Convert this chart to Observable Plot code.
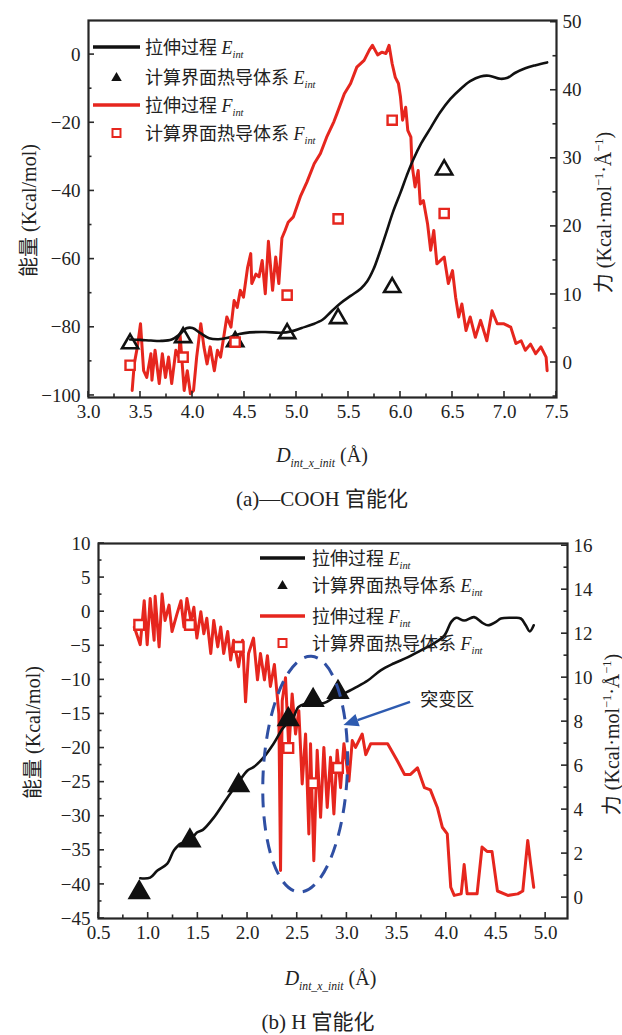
<!DOCTYPE html>
<html><head><meta charset="utf-8">
<script src="https://cdn.jsdelivr.net/npm/d3@7"></script>
<script src="https://cdn.jsdelivr.net/npm/@observablehq/plot@0.6"></script>
<style>
body{margin:0;background:#fff;width:622px;}
svg{display:block;}
svg text{font-family:"Liberation Serif","Noto Sans CJK SC",serif !important;}
.cap{font-family:"Liberation Serif","Noto Sans CJK SC",serif;font-size:21px;color:#222;text-align:center;white-space:nowrap;}
</style></head><body>
<div id="panelA"></div>
<div class="cap" id="capA" style="height:42px;line-height:42px;padding-left:22px;width:600px;"></div>
<div id="panelB"></div>
<div class="cap" id="capB" style="height:35px;line-height:44px;padding-left:14px;width:608px;"></div>
<script>
// ---------------- DATA: panel (a) —COOH ----------------
const xTicksA = [3.0,3.5,4.0,4.5,5.0,5.5,6.0,6.5,7.0,7.5];
const xMinorA = [3.25,3.75,4.25,4.75,5.25,5.75,6.25,6.75,7.25];
const eTicksA = [-100,-80,-60,-40,-20,0];
const eMinorA = [-90,-70,-50,-30,-10];
const fTicksA = [0,10,20,30,40,50];
const fMinorA = [-5,5,15,25,35,45];

// stretching process E_int (left axis)
const stretchEA_x = [3.40,3.50,3.60,3.70,3.80,3.88,3.94,4.00,4.08,4.16,4.25,4.35,4.45,4.55,4.70,4.85,4.95,5.05,5.15,5.25,5.33,5.42,5.52,5.62,5.68,5.74,5.80,5.86,5.93,6.00,6.06,6.12,6.20,6.29,6.38,6.48,6.58,6.67,6.77,6.85,6.96,7.03,7.10,7.20,7.30,7.41];
const stretchEA_e = [-83.6,-83.7,-83.9,-84.0,-83.6,-82.0,-80.3,-80.2,-81.8,-83.2,-83.5,-83.0,-82.0,-81.5,-81.4,-81.6,-81.2,-80.2,-79.2,-77.8,-75.5,-73.0,-70.8,-68.6,-66.5,-63.0,-58.0,-52.5,-46.0,-40.5,-35.5,-31.0,-26.0,-21.5,-17.0,-13.0,-10.0,-7.8,-6.4,-6.2,-7.1,-6.8,-5.4,-4.0,-3.1,-2.3];
// stretching process F_int (right axis)
const stretchFA_x = [3.42,3.44,3.47,3.50,3.53,3.56,3.60,3.61,3.64,3.68,3.71,3.74,3.77,3.80,3.84,3.87,3.88,3.92,3.95,3.98,4.01,4.04,4.08,4.11,4.14,4.17,4.21,4.24,4.27,4.30,4.33,4.37,4.40,4.43,4.46,4.49,4.53,4.56,4.57,4.61,4.64,4.67,4.70,4.73,4.77,4.80,4.83,4.86,4.89,4.92,4.97,5.04,5.10,5.17,5.23,5.29,5.36,5.39,5.46,5.52,5.58,5.65,5.70,5.73,5.78,5.82,5.86,5.89,5.92,5.95,5.98,6.00,6.02,6.05,6.07,6.10,6.11,6.14,6.17,6.19,6.22,6.26,6.29,6.32,6.35,6.42,6.46,6.50,6.53,6.56,6.59,6.63,6.67,6.72,6.77,6.83,6.88,6.93,6.99,7.06,7.11,7.16,7.20,7.25,7.30,7.35,7.40,7.41];
const stretchFA_f = [-4.1,-0.2,2.3,5.7,-1.2,-2.2,1.3,-2.6,1.8,-3.1,1.3,-2.2,0.8,-3.1,1.8,0.8,4.2,-4.1,-1.2,-4.6,-4.1,0.8,5.7,2.3,-0.2,2.3,-1.2,1.8,0.8,3.7,6.7,5.2,9.1,8.1,10.6,9.6,14.0,16.0,11.6,13.0,12.6,15.0,10.1,17.8,10.6,15.5,11.6,18.3,19.4,20.6,21.4,24.5,26.5,29.2,30.7,33.1,35.4,36.6,39.5,41.0,43.4,44.4,45.9,46.6,45.2,45.6,45.4,46.6,43.9,41.9,41.0,39.0,35.6,37.5,34.1,33.1,29.2,25.8,28.2,23.3,23.8,20.4,16.5,19.4,14.5,15.5,11.6,13.5,9.6,6.7,8.6,4.7,6.7,3.7,6.2,3.2,7.6,5.7,5.7,5.2,2.8,3.2,1.8,2.7,1.3,2.3,0.8,-1.2];
// interface thermal-conduction system (computed points)
const calcA_x = [3.40,3.91,4.41,4.91,5.40,5.92,6.42];
const calcA_e = [-84.8,-83.0,-84.2,-81.8,-77.4,-68.3,-33.8];
const calcA_f = [-0.4,0.8,3.0,9.9,21.1,35.6,21.9];

// ---------------- DATA: panel (b) H ----------------
const xTicksB = [0.5,1.0,1.5,2.0,2.5,3.0,3.5,4.0,4.5,5.0];
const xMinorB = [0.75,1.25,1.75,2.25,2.75,3.25,3.75,4.25,4.75];
const eTicksB = [-45,-40,-35,-30,-25,-20,-15,-10,-5,0,5,10];
const eMinorB = [-42.5,-37.5,-32.5,-27.5,-22.5,-17.5,-12.5,-7.5,-2.5,2.5,7.5];
const fTicksB = [0,2,4,6,8,10,12,14,16];
const fMinorB = [1,3,5,7,9,11,13,15];

const stretchEB_x = [0.92,1.02,1.09,1.19,1.26,1.33,1.41,1.49,1.55,1.66,1.80,1.90,2.00,2.06,2.16,2.26,2.36,2.46,2.51,2.58,2.67,2.77,2.87,2.97,3.09,3.21,3.34,3.47,3.61,3.74,3.87,3.98,4.05,4.10,4.18,4.28,4.36,4.42,4.50,4.55,4.68,4.75,4.80,4.84,4.88];
const stretchEB_e = [-39.1,-39.0,-38.0,-37.0,-35.0,-34.0,-33.8,-32.4,-32.0,-30.2,-27.2,-25.2,-23.3,-22.8,-21.4,-19.4,-17.0,-15.5,-14.0,-13.5,-13.4,-13.4,-12.6,-12.0,-11.1,-10.1,-8.6,-7.6,-6.7,-5.7,-4.7,-3.5,-1.5,-0.9,-1.3,-0.8,-1.6,-2.0,-1.5,-1.0,-0.9,-1.0,-2.0,-2.9,-2.0];
const stretchFB_x = [0.86,0.92,0.96,0.99,1.02,1.06,1.07,1.11,1.14,1.17,1.21,1.24,1.29,1.33,1.36,1.39,1.43,1.46,1.49,1.53,1.56,1.59,1.63,1.66,1.70,1.73,1.76,1.80,1.83,1.86,1.91,1.95,1.98,2.01,2.06,2.10,2.13,2.17,2.20,2.23,2.27,2.315,2.332,2.349,2.382,2.416,2.449,2.483,2.516,2.55,2.584,2.617,2.634,2.667,2.701,2.735,2.768,2.802,2.835,2.869,2.902,2.936,2.97,3.02,3.054,3.087,3.154,3.19,3.24,3.34,3.41,3.51,3.58,3.64,3.71,3.78,3.84,3.91,3.96,4.01,4.045,4.08,4.15,4.18,4.21,4.31,4.36,4.41,4.46,4.515,4.62,4.72,4.77,4.82,4.85,4.88];
const stretchFB_f = [12.3,11.5,13.5,11.5,13.6,11.7,13.7,11.4,13.8,12.6,13.3,12.1,12.9,13.5,12.3,13.6,12.6,13.2,11.8,13.0,12.0,12.7,11.1,12.6,11.4,12.3,11.1,12.1,10.8,11.7,10.5,11.7,8.9,11.1,11.8,9.9,11.1,9.9,11.0,9.6,10.6,8.35,1.23,8.95,10.0,6.7,9.26,7.44,8.5,5.17,7.44,2.89,6.99,1.68,6.7,3.65,6.83,4.1,6.38,3.8,6.7,5.0,7.0,5.3,7.14,6.83,7.44,6.5,7.0,7.0,7.0,6.2,5.6,5.6,5.9,5.0,4.9,4.1,3.2,2.9,0.47,0.1,0.17,1.5,0.17,0.17,2.3,2.1,2.1,0.3,0.1,0.17,0.3,2.6,1.5,0.47];
const calcB_x = [0.91,1.42,1.91,2.41,2.66,2.91];
const calcB_e = [-41.2,-33.6,-25.5,-15.8,-13.0,-11.8];
const calcB_f = [12.4,12.4,11.4,6.8,5.2,5.9];

// annotation of panel (b)
const zoneCenter = [2.585, -23.9];   // x, E
const zoneRadii = [0.423, 17.3];     // x-units, E-units
const zoneLabel = "突变区";
const zoneLabelAt = [4.01, -13.0];
const zoneArrow = [[3.64, -13.3], [2.97, -16.7]];

// text
const legendNames = ["拉伸过程", "计算界面热导体系", "拉伸过程", "计算界面热导体系"];
const legendSyms = ["E", "E", "F", "F"];
const captions = ["(a)—COOH 官能化", "(b) H 官能化"];

// ---------------- RENDER ----------------
const FONT = '"Liberation Serif","Noto Sans CJK SC",serif';
const RED = "#e6261e", BLACK = "#111", INK = "#222", BLUE = "#2f4fa3";

function richText(parent, parts, size, anchor) {
  const t = parent.append("text").attr("text-anchor", anchor || "start").attr("font-size", size)
    .attr("font-family", FONT);
  let shift = 0;
  for (const [s, k] of parts) {
    const ts = t.append("tspan").text(s);
    let target = 0, fs = size;
    if (k === "i") ts.attr("font-style", "italic");
    if (k === "sub") { ts.attr("font-style", "italic"); fs = size * 0.58; target = size * 0.27; }
    if (k === "sup") { fs = size * 0.62; target = -size * 0.42; }
    if (fs !== size) ts.attr("font-size", fs);
    if (target !== shift) { ts.attr("dy", target - shift); shift = target; }
  }
  return t;
}

function tickMark(axis, vals, len, side) {
  return (index, scales, values, dims) => {
    const g = d3.create("svg:g").attr("stroke", "#2a2a2a").attr("stroke-width", 1.6);
    const bottom = dims.height - dims.marginBottom;
    for (const v of vals) {
      if (axis === "x") {
        const px = scales.x(v);
        g.append("line").attr("x1", px).attr("x2", px).attr("y1", bottom).attr("y2", bottom - len);
      } else {
        const py = scales.y(v);
        const x0 = side === "left" ? dims.marginLeft : dims.width - dims.marginRight;
        const dir = side === "left" ? 1 : -1;
        g.append("line").attr("x1", x0).attr("x2", x0 + dir * len).attr("y1", py).attr("y2", py);
      }
    }
    return g.node();
  };
}

function buildPanel(P) {
  const k = (P.eDom[1] - P.eDom[0]) / (P.fDom[1] - P.fDom[0]);
  const fToE = f => P.eDom[0] + (f - P.fDom[0]) * k;
  const eToF = e => P.fDom[0] + (e - P.eDom[0]) / k;
  const lineE = P.sx.map((x, i) => ({x, e: P.se[i]}));
  const lineF = P.fx.map((x, i) => ({x, f: P.fv[i]}));
  const calc = P.cx.map((x, i) => ({x, e: P.ce[i], f: P.cf[i]}));

  const legend = () => {
    const g = d3.create("svg:g").attr("font-family", FONT).attr("fill", INK);
    const L = P.legend;
    legendNames.forEach((name, i) => {
      const y = L.rows[i];
      const cxs = (L.x0 + L.x1) / 2;
      if (i === 0 || i === 2) {
        g.append("line").attr("x1", L.x0).attr("x2", L.x1).attr("y1", y).attr("y2", y)
          .attr("stroke", i === 0 ? BLACK : RED).attr("stroke-width", 3.5);
      } else if (i === 1) {
        g.append("path").attr("d", d3.symbol(d3.symbolTriangle, 48)())
          .attr("transform", `translate(${cxs},${y + 1})`).attr("fill", BLACK);
      } else {
        g.append("rect").attr("x", cxs - 4).attr("y", y - 4).attr("width", 8).attr("height", 8)
          .attr("fill", "white").attr("stroke", RED).attr("stroke-width", 2);
      }
      richText(g, [[name + " ", ""], [legendSyms[i], "i"], ["int", "sub"]], 18, "start")
        .attr("x", L.tx).attr("y", y + 6.5);
    });
    return g.node();
  };

  const titles = (index, scales, values, dims) => {
    const g = d3.create("svg:g").attr("font-family", FONT).attr("fill", INK);
    const cx = (dims.marginLeft + dims.width - dims.marginRight) / 2;
    const cy = (dims.marginTop + dims.height - dims.marginBottom) / 2;
    richText(g, [["D", "i"], ["int_x_init", "sub"], [" (Å)", ""]], 20, "middle")
      .attr("x", cx + P.titleDx).attr("y", P.titleY);
    richText(g, [["能量 (Kcal/mol)", ""]], 20, "middle")
      .attr("transform", `translate(${P.leftLabelX},${cy + 2}) rotate(-90)`);
    richText(g, [["力 (Kcal·mol", ""], ["−1", "sup"], ["·Å", ""], ["−1", "sup"], [")", ""]], 20, "middle")
      .attr("transform", `translate(${P.rightLabelX},${cy + 4}) rotate(-90)`);
    return g.node();
  };

  const axisFont = {fontFamily: FONT, fontSize: 19, fill: INK};
  const marks = [
    Plot.line(lineF, {x: "x", y: d => fToE(d.f), stroke: RED, strokeWidth: 3, strokeLinejoin: "round"}),
    Plot.line(lineE, {x: "x", y: "e", stroke: BLACK, strokeWidth: 2.6, curve: "catmull-rom"}),
    Plot.dot(calc, {x: "x", y: "e", symbol: "triangle", r: P.triR, stroke: BLACK, strokeWidth: 2.6, fill: P.triFill}),
    Plot.dot(calc, {x: "x", y: d => fToE(d.f), symbol: "square", r: P.sqR, stroke: RED, strokeWidth: 2.4, fill: "white"}),
    Plot.axisX(P.xTicks, {anchor: "bottom", tickSize: 0, tickPadding: 7, tickFormat: d3.format(".1f"), label: null, ...axisFont}),
    Plot.axisY(P.eTicks, {anchor: "left", tickSize: 0, tickPadding: 8, label: null, ...axisFont}),
    Plot.axisY(P.fTicks.map(fToE), {anchor: "right", tickSize: 0, tickPadding: 6, label: null,
      tickFormat: d => String(Math.round(eToF(d))), ...axisFont}),
    tickMark("x", P.xTicks, 6, "bottom"),
    tickMark("x", P.xMinor, 3.5, "bottom"),
    tickMark("y", P.eTicks, 6, "left"),
    tickMark("y", P.eMinor, 3.5, "left"),
    tickMark("y", P.fTicks.map(fToE), 6, "right"),
    tickMark("y", P.fMinor.map(fToE), 3.5, "right"),
    legend,
    titles
  ];
  if (P.extra) marks.push(...P.extra);
  marks.push(Plot.frame({stroke: "#262626", strokeWidth: 2.2}));

  const svg = Plot.plot({
    width: 622, height: P.height,
    marginTop: P.m[0], marginRight: P.m[1], marginBottom: P.m[2], marginLeft: P.m[3],
    x: {domain: P.xDom},
    y: {domain: P.eDom},
    style: {fontFamily: FONT, fontSize: "19px", color: INK, background: "white", overflow: "visible"},
    marks
  });
  d3.select(svg).selectAll("text").style("font-family", FONT);
  return svg;
}

const zoneMarks = [
  (index, scales) => {
    const g = d3.create("svg:g");
    const cx = scales.x(zoneCenter[0]), cy = scales.y(zoneCenter[1]);
    const rx = Math.abs(scales.x(zoneCenter[0] + zoneRadii[0]) - cx);
    const ry = Math.abs(scales.y(zoneCenter[1] + zoneRadii[1]) - cy);
    g.append("ellipse").attr("cx", cx).attr("cy", cy).attr("rx", rx).attr("ry", ry)
      .attr("transform", `rotate(3 ${cx} ${cy})`)
      .attr("fill", "none").attr("stroke", BLUE).attr("stroke-width", 3)
      .attr("stroke-dasharray", "14 9");
    const x1 = scales.x(zoneArrow[0][0]), y1 = scales.y(zoneArrow[0][1]);
    const x2 = scales.x(zoneArrow[1][0]), y2 = scales.y(zoneArrow[1][1]);
    const a = Math.atan2(y2 - y1, x2 - x1), hl = 15, hw = 6.5;
    const bx = x2 - hl * Math.cos(a), by = y2 - hl * Math.sin(a);
    g.append("line").attr("x1", x1).attr("y1", y1).attr("x2", bx).attr("y2", by)
      .attr("stroke", "#2e5bb0").attr("stroke-width", 2.6);
    g.append("path").attr("fill", "#2e5bb0")
      .attr("d", `M${x2},${y2}L${bx + hw * Math.sin(a)},${by - hw * Math.cos(a)}L${bx - hw * Math.sin(a)},${by + hw * Math.cos(a)}Z`);
    return g.node();
  },
  Plot.text([zoneLabel], {x: () => zoneLabelAt[0], y: () => zoneLabelAt[1], text: d => d,
    fontSize: 18, fill: INK, textAnchor: "middle", fontFamily: FONT})
];

const panelA = buildPanel({
  xDom: [3.0, 7.5], eDom: [-100.6, 10], fDom: [-5.14, 50.25],
  height: 478, m: [20, 66, 81, 88],
  xTicks: xTicksA, xMinor: xMinorA, eTicks: eTicksA, eMinor: eMinorA, fTicks: fTicksA, fMinor: fMinorA,
  sx: stretchEA_x, se: stretchEA_e, fx: stretchFA_x, fv: stretchFA_f,
  cx: calcA_x, ce: calcA_e, cf: calcA_f,
  triR: 6, triFill: "none", sqR: 5.2,
  legend: {x0: 93, x1: 140, tx: 145, rows: [47, 77, 105, 133]},
  titleY: 462, titleDx: 0, leftLabelX: 36, rightLabelX: 611
});
const panelB = buildPanel({
  xDom: [0.5, 5.22], eDom: [-45, 10], fDom: [-0.95, 16.1],
  height: 480, m: [23, 55, 82, 98],
  xTicks: xTicksB, xMinor: xMinorB, eTicks: eTicksB, eMinor: eMinorB, fTicks: fTicksB, fMinor: fMinorB,
  sx: stretchEB_x, se: stretchEB_e, fx: stretchFB_x, fv: stretchFB_f,
  cx: calcB_x, ce: calcB_e, cf: calcB_f,
  triR: 7, triFill: BLACK, sqR: 5.5,
  legend: {x0: 260, x1: 305, tx: 312, rows: [38, 65, 96, 123]},
  titleY: 465, titleDx: -2, leftLabelX: 40, rightLabelX: 619,
  extra: zoneMarks
});
document.getElementById("panelA").appendChild(panelA);
document.getElementById("panelB").appendChild(panelB);
document.getElementById("capA").textContent = captions[0];
document.getElementById("capB").textContent = captions[1];
</script>
</body></html>
